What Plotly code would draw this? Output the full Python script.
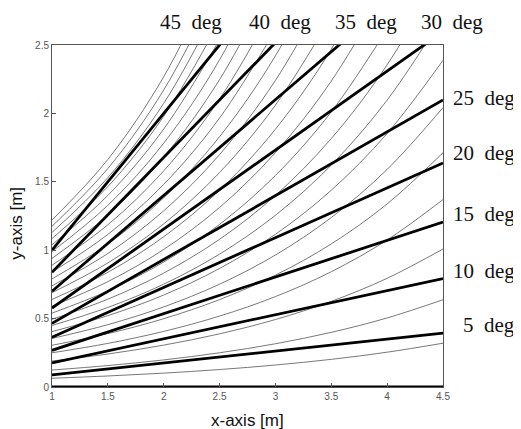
import plotly.graph_objects as go

# ---- data ----
# thick lines: constant-angle lines, value at x=1 and at x=4.5
angles = [0, 5, 10, 15, 20, 25, 30, 35, 40, 45]
thick_y_start = [0.0, 0.088, 0.176, 0.268, 0.364, 0.466, 0.577, 0.700, 0.839, 1.0]
thick_y_end = [0.0, 0.394, 0.793, 1.206, 1.638, 2.098, 2.598, 3.151, 3.776, 4.5]
thick_x = [1.0, 4.5]

# thin curves: sampled at these x positions (each curve listed until it leaves the top)
thin_x = [1.0, 1.5, 2.0, 2.5, 3.0, 3.5, 4.0, 4.5]
thin_1 = [0.064, 0.0806, 0.1014, 0.1276, 0.1606, 0.2021, 0.2544, 0.3202]
thin_2 = [0.124, 0.1567, 0.1980, 0.2502, 0.3161, 0.3995, 0.5048, 0.6378]
thin_3 = [0.19, 0.2412, 0.3061, 0.3886, 0.4932, 0.6260, 0.7946, 1.0086]
thin_4 = [0.25, 0.3188, 0.4065, 0.5183, 0.6609, 0.8427, 1.0745, 1.3701]
thin_5 = [0.305, 0.3902, 0.4993, 0.6389, 0.8175, 1.0459, 1.3383, 1.7123]
thin_6 = [0.355, 0.4558, 0.5853, 0.7515, 0.9649, 1.2389, 1.5908, 2.0426]
thin_7 = [0.405, 0.5218, 0.6724, 0.8664, 1.1163, 1.4384, 1.8534, 2.3881]
thin_8 = [0.45, 0.5816, 0.7516, 0.9714, 1.2555, 1.6226, 2.0970, 2.7102]
thin_9 = [0.495, 0.6420, 0.8326, 1.0798, 1.4003, 1.8161, 2.3553, 3.0546]
thin_10 = [0.54, 0.7024, 0.9137, 1.1886, 1.5461, 2.0112, 2.6161]
thin_11 = [0.59, 0.7702, 1.0054, 1.3125, 1.7133, 2.2365, 2.9196]
thin_12 = [0.64, 0.8384, 1.0983, 1.4388, 1.8848, 2.4691, 3.2345]
thin_13 = [0.69, 0.9071, 1.1924, 1.5676, 2.0607, 2.7091]
thin_14 = [0.74, 0.9762, 1.2878, 1.6989, 2.2412, 2.9565]
thin_15 = [0.79, 1.0453, 1.3830, 1.8298, 2.4210, 3.2033]
thin_16 = [0.84, 1.1154, 1.4810, 1.9664, 2.6110]
thin_17 = [0.89, 1.1858, 1.5800, 2.1052, 2.8050]
thin_18 = [0.94, 1.2569, 1.6806, 2.2471, 3.0046]
thin_19 = [0.99, 1.3284, 1.7824, 2.3917, 3.2091]
thin_20 = [1.04, 1.4004, 1.8856, 2.5389]
thin_21 = [1.085, 1.4653, 1.9789, 2.6725]
thin_22 = [1.13, 1.5307, 2.0735, 2.8088]
thin_23 = [1.175, 1.5972, 2.1711, 2.9511]
thin_24 = [1.22, 1.6633, 2.2679, 3.0920]
thin_curves = [thin_1, thin_2, thin_3, thin_4, thin_5, thin_6, thin_7, thin_8,
               thin_9, thin_10, thin_11, thin_12, thin_13, thin_14, thin_15,
               thin_16, thin_17, thin_18, thin_19, thin_20, thin_21, thin_22,
               thin_23, thin_24]

# angle labels
top_labels = ["45 deg", "40 deg", "35 deg", "30 deg"]
right_labels = ["25 deg", "20 deg", "15 deg", "10 deg", "5 deg"]

x_ticks = [1, 1.5, 2, 2.5, 3, 3.5, 4, 4.5]
x_ticklabels = ["1", "1.5", "2", "2.5", "3", "3.5", "4", "4.5"]
y_ticks = [0, 0.5, 1, 1.5, 2, 2.5]
y_ticklabels = ["0", "0.5", "1", "1.5", "2", "2.5"]

# ---- figure ----
fig = go.Figure()

for yc in thin_curves:
    fig.add_trace(go.Scatter(
        x=thin_x[:len(yc)], y=yc, mode="lines",
        line=dict(color="#555555", width=0.8, shape="spline", smoothing=1.0),
        hoverinfo="skip", showlegend=False))

for a, y0, y1 in zip(angles, thick_y_start, thick_y_end):
    fig.add_trace(go.Scatter(
        x=thick_x, y=[y0, y1], mode="lines",
        line=dict(color="#000000", width=2.8),
        name=f"{a} deg", showlegend=False))

label_font = dict(family="Liberation Serif, Times New Roman, serif", size=21, color="#111111")
top_pos = [0.356, 0.584, 0.802, 1.024]
for txt, xp in zip(top_labels, top_pos):
    fig.add_annotation(text=txt.replace(" ", "\u00a0 "), x=xp, y=1.068, xref="paper", yref="paper",
                       xanchor="center", yanchor="middle", showarrow=False, font=label_font)
right_pos = [0.845, 0.684, 0.506, 0.339, 0.181]
for txt, yp in zip(right_labels, right_pos):
    fig.add_annotation(text=txt.replace(" ", "\u00a0 "), x=1.19, y=yp, xref="paper", yref="paper",
                       xanchor="right", yanchor="middle", showarrow=False, font=label_font)

title_font = dict(family="Liberation Sans, Arial, sans-serif", size=17, color="#111111")
fig.add_annotation(text="x-axis [m]", x=0.5, y=-0.098, xref="paper", yref="paper",
                   xanchor="center", yanchor="middle", showarrow=False, font=title_font)
fig.add_annotation(text="y-axis [m]", x=-0.09, y=0.48, xref="paper", yref="paper",
                   xanchor="center", yanchor="middle", showarrow=False, font=title_font,
                   textangle=-90)

tick_font = dict(family="Liberation Sans, Arial, sans-serif", size=10, color="#555555")
fig.update_xaxes(range=[1, 4.5], tickvals=x_ticks, ticktext=x_ticklabels,
                 ticks="inside", ticklen=4, tickcolor="#555555",
                 showline=True, linecolor="#555555", linewidth=1, mirror=True,
                 showgrid=False, zeroline=False, tickfont=tick_font)
fig.update_yaxes(range=[0, 2.5], tickvals=y_ticks, ticktext=y_ticklabels,
                 ticks="inside", ticklen=4, tickcolor="#555555",
                 showline=True, linecolor="#555555", linewidth=1, mirror=True,
                 showgrid=False, zeroline=False, tickfont=tick_font)

# the page body adds an 8px offset, so the figure is 8px smaller than the window
fig.update_layout(width=513, height=421,
                  margin=dict(l=44, r=78, t=37, b=42),
                  plot_bgcolor="white", paper_bgcolor="white",
                  showlegend=False)

fig.write_html("out.html")
